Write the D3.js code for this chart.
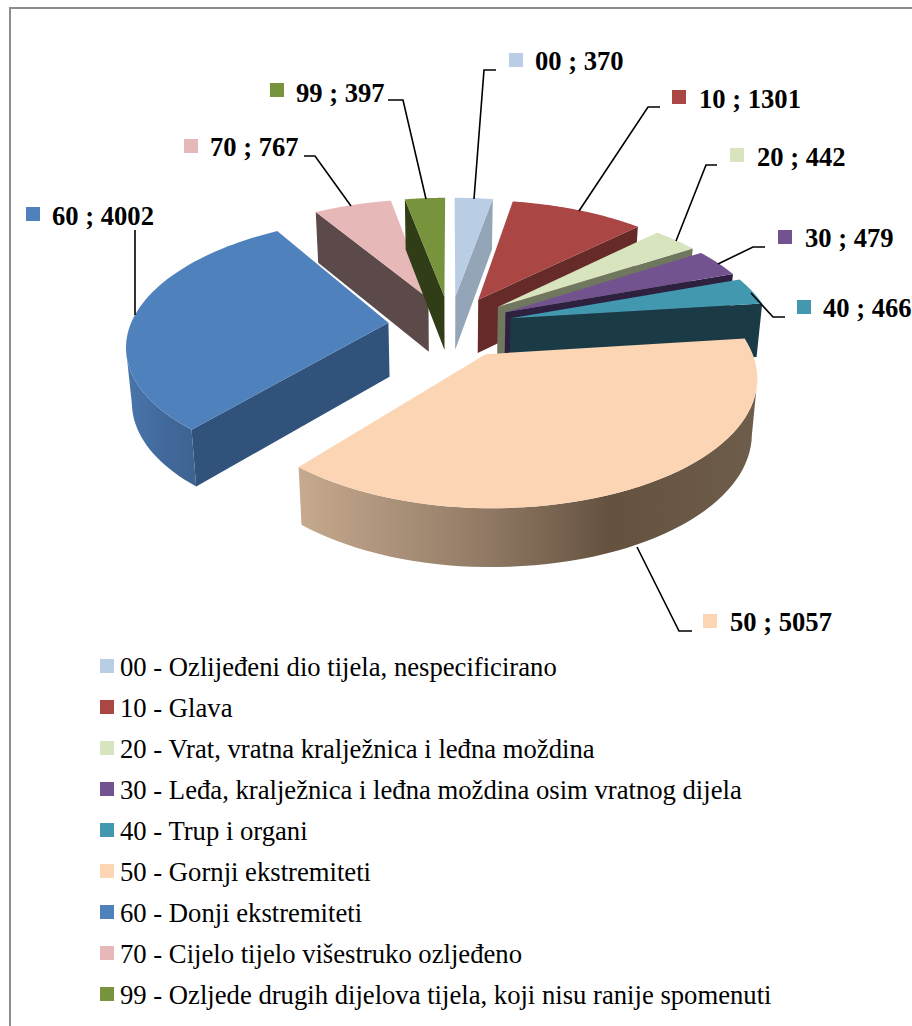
<!DOCTYPE html>
<html>
<head>
<meta charset="utf-8">
<script src="https://cdnjs.cloudflare.com/ajax/libs/d3/7.8.5/d3.min.js"></script>
<style>
  html, body { margin: 0; padding: 0; background: #fff; }
  svg { display: block; }
  text { font-family: "Liberation Serif", serif; fill: #000; }
</style>
</head>
<body>
<script>
const codes = ["00", "10", "20", "30", "40", "50", "60", "70", "99"];
const values = [370, 1301, 442, 479, 466, 5057, 4002, 767, 397];
const names = [
  "Ozlijeđeni dio tijela, nespecificirano",
  "Glava",
  "Vrat, vratna kralježnica i leđna moždina",
  "Leđa, kralježnica i leđna moždina osim vratnog dijela",
  "Trup i organi",
  "Gornji ekstremiteti",
  "Donji ekstremiteti",
  "Cijelo tijelo višestruko ozljeđeno",
  "Ozljede drugih dijelova tijela, koji nisu ranije spomenuti"
];
const topColors = ["#B9CDE5", "#AA4643", "#D7E4BD", "#735290", "#4198AF", "#FCD5B5", "#4F81BD", "#E6B9B8", "#77933C"];
const wallColors = ["#95A5B8", "#662A28", "#70775F", "#2E2140", "#1A3B46", "#65533F", "#31527A", "#5C4A4A", "#313D17"];

// label box per slice: swatch corner, then the leader line from the pie to the label
const labelPos = [
  { sx: 509, sy: 53, tx: 535, ty: 70, line: [[474, 199], [484, 70], [496, 70]] },
  { sx: 672, sy: 90, tx: 699, ty: 108, line: [[579, 211], [648, 107], [660, 107]] },
  { sx: 730, sy: 148, tx: 757, ty: 166, line: [[676, 241], [706, 165], [717, 165]] },
  { sx: 778, sy: 230, tx: 805, ty: 247, line: [[718, 264], [753, 247], [765, 247]] },
  { sx: 797, sy: 300, tx: 823, ty: 317, line: [[751, 293], [773, 317], [785, 317]] },
  { sx: 703, sy: 614, tx: 730, ty: 631, line: [[637, 547], [679, 631], [692, 631]] },
  { sx: 26, sy: 207, tx: 52, ty: 225, line: [[135, 315], [135, 230]] },
  { sx: 184, sy: 139, tx: 210, ty: 156, line: [[351, 206], [315, 156], [304, 156]] },
  { sx: 270, sy: 83, tx: 296, ty: 102, line: [[426, 199], [403, 100], [388, 100]] }
];

const width = 912, height = 1026;
const cx = 450, cy = 325;     // centre of the un-exploded pie
const persp = 0.16;           // how fast things shrink toward the back
const explode = 0.24;         // explosion as a part of the radius
const depth = 54;             // height of the pie
const shape = { rxLeft: 258, rxRight: 262, ry: 123, dx: 0, dy: 0 };
// the big front slice was drawn a bit flatter and further out than the rest
const shapeBig = { rxLeft: 250, rxRight: 258, ry: 120, dx: 5, dy: 3 };

const svg = d3.select("body").append("svg").attr("width", width).attr("height", height);

svg.append("rect")
  .attr("x", 10).attr("y", 8)
  .attr("width", width + 20).attr("height", height + 20)
  .attr("fill", "#fff").attr("stroke", "#8c8c8c").attr("stroke-width", 2);

// plane coordinates (x right, y to the back, unit = radius) -> screen, lvl 0 top, 1 bottom
function project(X, Y, lvl, sh) {
  const s = 1 / (1 + persp * Y);
  const x = (X > 0 ? sh.rxRight : sh.rxLeft) * X * s;
  const y = -sh.ry * Y * s;
  if (lvl) return [cx + sh.dx + x * 0.982, cy + sh.dy + y + depth * Math.pow(s, 0.4)];
  return [cx + sh.dx + x, cy + sh.dy + y];
}

const pie = d3.pie().value(d => d).sort(null);
const arcs = pie(values);

const line = d3.line();

const defs = svg.append("defs");
function rimGradient(id, stops, x1, x2) {
  const g = defs.append("linearGradient").attr("id", id)
    .attr("gradientUnits", "userSpaceOnUse")
    .attr("x1", x1).attr("x2", x2).attr("y1", 0).attr("y2", 0);
  stops.forEach(st => g.append("stop").attr("offset", st[0]).attr("stop-color", st[1]));
}
rimGradient("rim50", [[0, "#C6AA8F"], [0.42, "#8F7863"], [0.68, "#64523F"], [1, "#6E5D4A"]], 299, 756);
rimGradient("rim60", [[0, "#4A75AB"], [0.5, "#42699B"], [1, "#3C6290"]], 127, 200);

// painter order, back slices first
const order = [7, 8, 0, 1, 2, 3, 4, 6, 5];

order.forEach(i => {
  const d = arcs[i];
  const sh = codes[i] === "50" ? shapeBig : shape;
  const mid = (d.startAngle + d.endAngle) / 2;
  const ox = explode * Math.sin(mid), oy = explode * Math.cos(mid);
  const pt = (a, lvl) => project(ox + Math.sin(a), oy + Math.cos(a), lvl, sh);
  const apexT = project(ox, oy, 0, sh), apexB = project(ox, oy, 1, sh);
  const steps = d3.range(0, 61).map(k => d.startAngle + (d.endAngle - d.startAngle) * k / 60);
  const g = svg.append("g").attr("class", "slice").attr("data-code", codes[i]);
  const midT = pt(mid, 0);

  // cut faces, only the ones turned to the viewer
  [d.startAngle, d.endAngle].forEach(a => {
    const p = pt(a, 0);
    const cross = (p[0] - apexT[0]) * (midT[1] - apexT[1]) - (p[1] - apexT[1]) * (midT[0] - apexT[0]);
    const above = p[0] > apexT[0] ? cross < 0 : cross > 0;
    if (!above || Math.abs(p[0] - apexT[0]) < 1) return;
    g.append("path")
      .attr("d", line([apexT, p, pt(a, 1), apexB]) + "Z")
      .attr("fill", wallColors[i]);
  });

  // outer rim, the part that moves left on screen when going clockwise
  const front = steps.filter((a, k) => {
    const nb = k < 60 ? steps[k + 1] : a;
    const pb = k > 0 ? steps[k - 1] : a;
    return pt(nb, 0)[0] - pt(pb, 0)[0] < 0;
  });
  if (front.length > 1) {
    const fill = codes[i] === "50" ? "url(#rim50)" : codes[i] === "60" ? "url(#rim60)" : wallColors[i];
    const upper = front.map(a => pt(a, 0));
    const lower = front.map(a => pt(a, 1)).reverse();
    g.append("path").attr("d", line(upper.concat(lower)) + "Z").attr("fill", fill);
  }

  // top
  g.append("path")
    .attr("d", line([apexT].concat(steps.map(a => pt(a, 0)))) + "Z")
    .attr("fill", topColors[i]);
});

// leader lines and data labels
labelPos.forEach((p, i) => {
  svg.append("path").attr("d", line(p.line))
    .attr("fill", "none").attr("stroke", "#000").attr("stroke-width", 1.6);
  svg.append("rect").attr("x", p.sx).attr("y", p.sy).attr("width", 14).attr("height", 14)
    .attr("fill", topColors[i]);
  svg.append("text").attr("x", p.tx).attr("y", p.ty)
    .attr("font-size", 26.6).attr("font-weight", "bold")
    .text(codes[i] + " ; " + values[i]);
});

// legend
const legendY = d3.scalePoint().domain(codes).range([659, 987]);
const legend = svg.selectAll("g.legend").data(codes).enter().append("g").attr("class", "legend");
legend.append("rect")
  .attr("x", 100).attr("y", d => legendY(d))
  .attr("width", 14).attr("height", 14)
  .attr("fill", (d, i) => topColors[i]);
legend.append("text")
  .attr("x", 120).attr("y", d => legendY(d) + 17)
  .attr("font-size", 26.67)
  .text((d, i) => d + " - " + names[i]);
</script>
</body>
</html>
